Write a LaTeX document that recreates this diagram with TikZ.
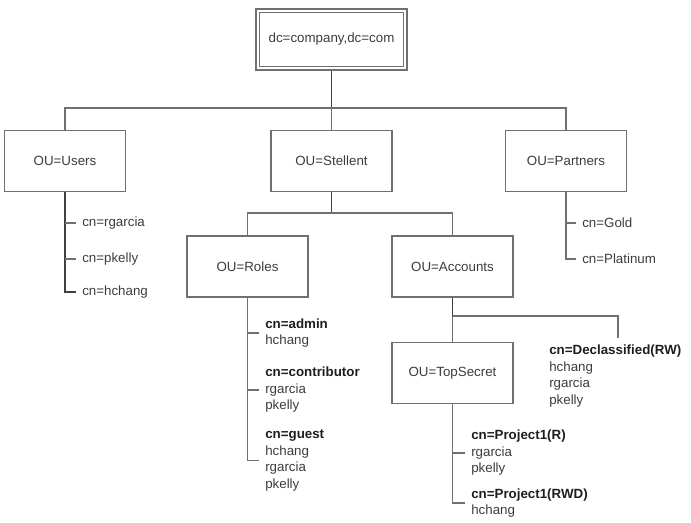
\documentclass[tikz,border=0pt]{standalone}
\usepackage{fontspec}
\setmainfont{Liberation Sans}
\definecolor{txt}{HTML}{3C3C3C}
\definecolor{btxt}{HTML}{1E1E1E}
\definecolor{ln}{HTML}{707070}
\definecolor{stemc}{HTML}{404040}
\newcommand{\bl}[1]{{\bfseries\color{btxt}#1}}
\begin{document}
\begin{tikzpicture}[x=0.75pt,y=-0.75pt,
  font=\fontsize{10pt}{12.4pt}\selectfont, text=txt,
  ou/.style={draw=ln, line width=1pt, minimum width={121*0.75pt}, minimum height={61*0.75pt}, inner sep=0pt},
  leaf/.style={anchor=west, inner sep=0pt, align=left},
  conn/.style={draw=ln, line width=1pt},
  stem/.style={draw=stemc, line width=1.3pt}]
\useasboundingbox (0,0) rectangle (691,522);
% root
\node[draw=ln, line width=1.2pt, minimum width={151*0.75pt}, minimum height={61*0.75pt}, inner sep=0pt] (root) at (331.5,39.5) {dc=company,dc=com};
\draw[ln, line width=1pt] ([shift={(4,4)}]root.north west) rectangle ([shift={(-4,-4)}]root.south east);
% first level
\node[ou] (users) at (65,161) {OU=Users};
\node[ou] (stellent) at (331.5,161) {OU=Stellent};
\node[ou] (partners) at (566,161) {OU=Partners};
\coordinate (bar1) at (331.5,108);
\draw[stem] (root.south) -- (bar1);
\draw[conn] (users.north) |- (bar1) -| (partners.north);
\draw[conn] (bar1) -- (stellent.north);
% users leaves
\node[leaf] (u1) at (82,223) {cn=rgarcia};
\node[leaf] (u2) at (82,259) {cn=pkelly};
\node[leaf] (u3) at (82,292) {cn=hchang};
\draw[stem] (users.south) |- ([xshift=-4.5pt]u3.west);
\draw[conn] (users.south |- u1.west) -- ([xshift=-4.5pt]u1.west);
\draw[conn] (users.south |- u2.west) -- ([xshift=-4.5pt]u2.west);
% partners leaves
\node[leaf] (p1) at (582,223) {cn=Gold};
\node[leaf] (p2) at (582,259) {cn=Platinum};
\draw[conn] (partners.south) |- ([xshift=-4.5pt]p2.west);
\draw[conn] (partners.south |- p1.west) -- ([xshift=-4.5pt]p1.west);
% second level
\node[ou] (roles) at (247.5,266.5) {OU=Roles};
\node[ou] (accounts) at (452.5,266.5) {OU=Accounts};
\coordinate (bar2) at (331.5,213);
\draw[stem] (stellent.south) -- (bar2);
\draw[conn] (roles.north) |- (bar2) -| (accounts.north);
% roles leaves
\node[leaf] (r1) at (265,333) {\bl{cn=admin}\\hchang};
\node[leaf] (r2) at (265,390) {\bl{cn=contributor}\\rgarcia\\pkelly};
\node[leaf] (r3) at (265,460.5) {\bl{cn=guest}\\hchang\\rgarcia\\pkelly};
\draw[conn] (roles.south) |- ([xshift=-4.5pt]r3.west);
\draw[conn] (roles.south |- r1.west) -- ([xshift=-4.5pt]r1.west);
\draw[conn] (roles.south |- r2.west) -- ([xshift=-4.5pt]r2.west);
% accounts children
\node[ou] (topsecret) at (452.5,373) {OU=TopSecret};
\node[leaf] (decl) at (549,376) {\bl{cn=Declassified(RW)}\\hchang\\rgarcia\\pkelly};
\coordinate (bar3) at (452.5,316);
\coordinate (declend) at (618,338);
\draw[stem] (accounts.south) -- (bar3);
\draw[conn] (bar3) -| (declend);
\draw[conn] (bar3) -- (topsecret.north);
% topsecret leaves
\node[leaf] (t1) at (471,453) {\bl{cn=Project1(R)}\\rgarcia\\pkelly};
\node[leaf] (t2) at (471,503) {\bl{cn=Project1(RWD)}\\hchang};
\draw[conn] (topsecret.south) |- ([xshift=-4.5pt]t2.west);
\draw[conn] (topsecret.south |- t1.west) -- ([xshift=-4.5pt]t1.west);
\end{tikzpicture}
\end{document}
